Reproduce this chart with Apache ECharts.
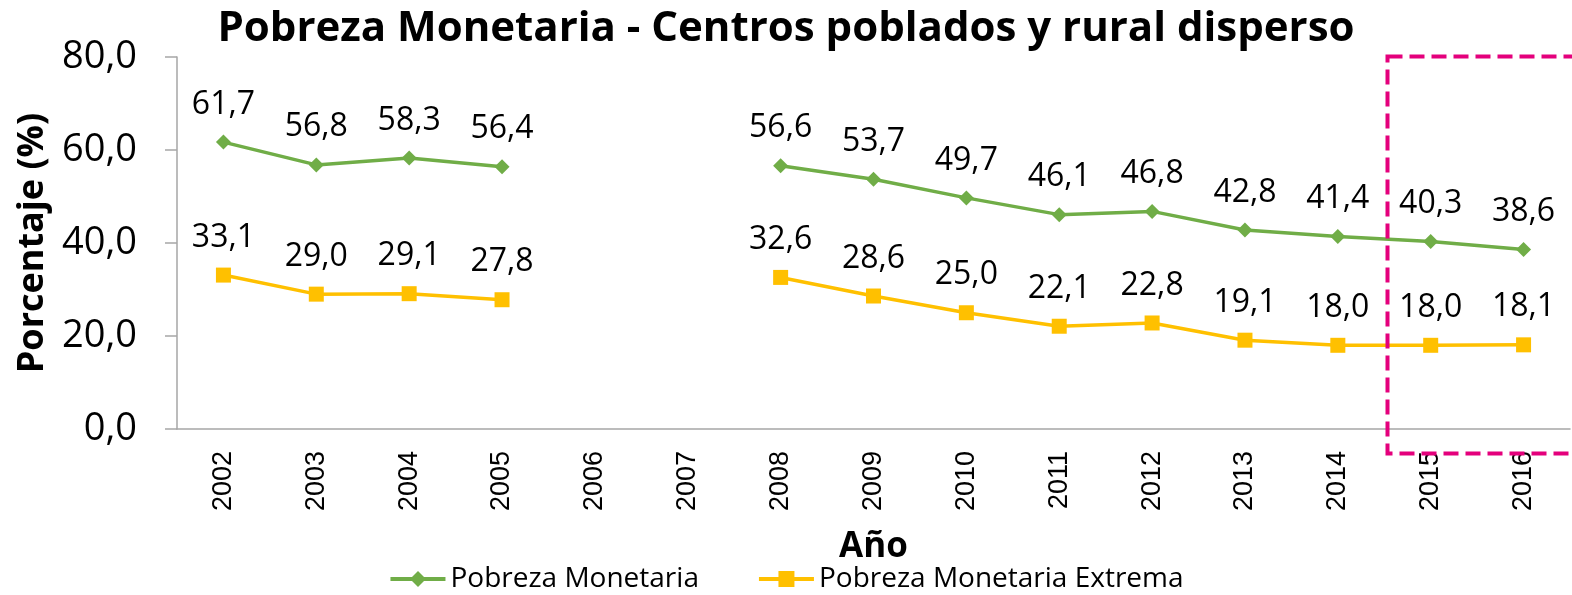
<!DOCTYPE html>
<html>
<head>
<meta charset="utf-8">
<script src="https://cdn.jsdelivr.net/npm/echarts@6/dist/echarts.min.js"></script>
<style>
  html, body { margin: 0; padding: 0; background: #fff; }
  #grafica { width: 1572px; height: 595px; }
</style>
</head>
<body>
<div id="grafica"></div>
<script>
// Datos del gráfico
const anios = ['2002', '2003', '2004', '2005', '2006', '2007', '2008', '2009', '2010', '2011', '2012', '2013', '2014', '2015', '2016'];
const pobrezaMonetaria = [61.7, 56.8, 58.3, 56.4, null, null, 56.6, 53.7, 49.7, 46.1, 46.8, 42.8, 41.4, 40.3, 38.6];
const pobrezaExtrema = [33.1, 29.0, 29.1, 27.8, null, null, 32.6, 28.6, 25.0, 22.1, 22.8, 19.1, 18.0, 18.0, 18.1];
const ticksY = [0, 20, 40, 60, 80];

const fuente = 'Open Sans';
const coma = v => v.toFixed(1).replace('.', ',');

let myChart = echarts.init(document.getElementById('grafica'));
myChart.setOption({
    animation: false,
    title: {
        text: 'Pobreza Monetaria - Centros poblados y rural disperso',
        left: 'center',
        top: 3,
        textStyle: { fontFamily: fuente, fontSize: 42, fontWeight: 'bold', color: '#000' }
    },
    grid: { left: 177, right: 2, top: 57, bottom: 166 },
    legend: {
        top: 560,
        left: 'center',
        itemGap: 58,
        itemWidth: 55,
        itemHeight: 20,
        lineStyle: { width: 4 },
        textStyle: { fontFamily: fuente, fontSize: 28, color: '#000' },
        data: ['Pobreza Monetaria', 'Pobreza Monetaria Extrema']
    },
    xAxis: {
        type: 'category',
        data: anios,
        name: 'Año',
        nameLocation: 'middle',
        nameGap: 101,
        nameTextStyle: { fontFamily: fuente, fontSize: 35, fontWeight: 'bold', color: '#000' },
        axisLine: { lineStyle: { color: '#a6a6a6', width: 1.5 } },
        axisTick: { lineStyle: { color: '#a6a6a6', width: 1.5 }, length: 10 },
        axisLabel: { rotate: 90, fontFamily: 'Liberation Sans', fontSize: 27, color: '#000', margin: 22 }
    },
    yAxis: {
        type: 'value',
        min: 0,
        max: 80,
        interval: 20,
        name: 'Porcentaje (%)',
        nameLocation: 'middle',
        nameGap: 124,
        nameTextStyle: { fontFamily: fuente, fontSize: 36, fontWeight: 'bold', color: '#000' },
        splitLine: { show: false },
        axisLine: { show: true, lineStyle: { color: '#a6a6a6', width: 1.5 } },
        axisTick: { show: true, length: 12, lineStyle: { color: '#a6a6a6', width: 1.5 } },
        axisLabel: {
            fontFamily: fuente, fontSize: 38, color: '#000', margin: 40,
            formatter: v => ticksY.includes(v) ? coma(v) : ''
        }
    },
    series: [
        {
            name: 'Pobreza Monetaria',
            type: 'line',
            data: pobrezaMonetaria,
            connectNulls: false,
            symbol: 'diamond',
            symbolSize: 15,
            color: '#70ad47',
            lineStyle: { width: 3.5 },
            label: {
                show: true, position: 'top', distance: 14,
                fontFamily: fuente, fontSize: 32, color: '#000',
                formatter: p => coma(p.value)
            }
        },
        {
            name: 'Pobreza Monetaria Extrema',
            type: 'line',
            data: pobrezaExtrema,
            connectNulls: false,
            symbol: 'rect',
            symbolSize: 15,
            color: '#ffc000',
            lineStyle: { width: 3.5 },
            label: {
                show: true, position: 'top', distance: 14,
                fontFamily: fuente, fontSize: 32, color: '#000',
                formatter: p => coma(p.value)
            }
        }
    ],
    graphic: [
        {
            type: 'rect',
            left: 1385,
            top: 54,
            shape: { width: 200, height: 397 },
            style: { fill: 'none', stroke: '#e4007c', lineWidth: 4, lineDash: [15, 7] },
            z: 10
        }
    ]
});
</script>
</body>
</html>
